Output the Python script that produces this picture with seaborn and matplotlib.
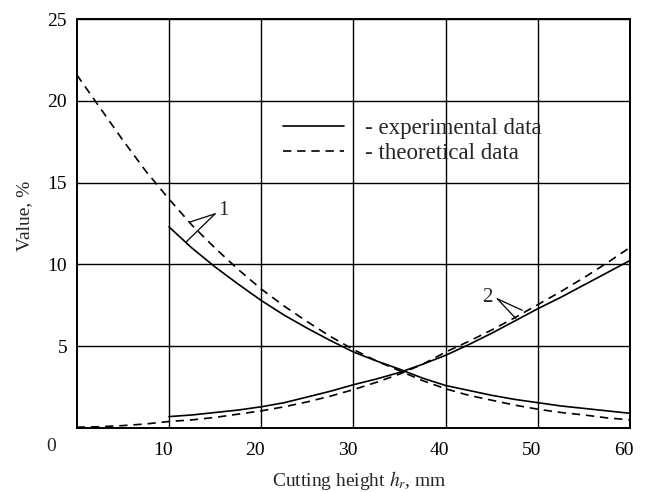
import matplotlib
matplotlib.use("Agg")
import matplotlib.pyplot as plt
import matplotlib.transforms as mtransforms
import seaborn as sns
import pandas as pd

# curve 1 (decreasing) and curve 2 (increasing)
x_theor = [0, 2.5, 5, 7.5, 10, 12.5, 15, 17.5, 20, 22.5, 25, 27.5, 30,
           32.5, 35, 37.5, 40, 42.5, 45, 47.5, 50, 52.5, 55, 57.5, 60]
theor_1 = [21.6, 19.6, 17.6, 15.7, 14.0, 12.4, 11.0, 9.7, 8.5, 7.45, 6.5, 5.6, 4.8,
           4.1, 3.5, 2.9, 2.4, 2.0, 1.7, 1.4, 1.15, 0.95, 0.8, 0.62, 0.5]
theor_2 = [0.05, 0.08, 0.15, 0.25, 0.4, 0.5, 0.65, 0.85, 1.05, 1.3, 1.6, 1.95, 2.35,
           2.8, 3.3, 3.9, 4.65, 5.3, 6.0, 6.75, 7.55, 8.35, 9.2, 10.1, 11.05]

x_exp = [10, 12.5, 15, 17.5, 20, 22.5, 25, 27.5, 30, 32.5, 35,
         37.5, 40, 42.5, 45, 47.5, 50, 52.5, 55, 57.5, 60]
exp_1 = [12.3, 11.0, 9.85, 8.8, 7.8, 6.9, 6.1, 5.35, 4.65, 4.1, 3.6,
         3.05, 2.6, 2.3, 2.0, 1.75, 1.55, 1.35, 1.2, 1.05, 0.9]
exp_2 = [0.7, 0.8, 0.95, 1.1, 1.3, 1.55, 1.9, 2.25, 2.65, 3.0, 3.4,
         3.9, 4.45, 5.1, 5.8, 6.55, 7.3, 8.0, 8.75, 9.5, 10.25]

x_ticks = [10, 20, 30, 40, 50, 60]
y_ticks = [5, 10, 15, 20, 25]

frames = [
    pd.DataFrame({"h": x_exp, "value": exp_1, "curve": "e1", "kind": "experimental"}),
    pd.DataFrame({"h": x_exp, "value": exp_2, "curve": "e2", "kind": "experimental"}),
    pd.DataFrame({"h": x_theor, "value": theor_1, "curve": "t1", "kind": "theoretical"}),
    pd.DataFrame({"h": x_theor, "value": theor_2, "curve": "t2", "kind": "theoretical"}),
]
df = pd.concat(frames, ignore_index=True)

sns.set_theme(style="white")
plt.rcParams["font.family"] = ["Liberation Serif", "DejaVu Serif"]
plt.rcParams["mathtext.fontset"] = "stix"

fig = plt.figure(figsize=(6.45, 4.92), dpi=100)
ax = fig.add_axes([0.119, 0.130, 0.858, 0.831])

sns.lineplot(data=df, x="h", y="value", style="kind", units="curve", estimator=None,
             color="black", linewidth=1.2,
             dashes={"experimental": "", "theoretical": (5, 3.5)}, ax=ax)

ax.set_xlim(0, 60)
ax.set_ylim(0, 25)
ax.set_xticks(x_ticks)
ax.set_yticks(y_ticks)
ax.grid(True, color="black", linewidth=1.0)
ax.set_axisbelow(True)
for s in ax.spines.values():
    s.set_color("black")
    s.set_linewidth(1.4)
ax.tick_params(length=0, labelsize=14, colors="black")
ax.tick_params(axis="y", pad=7)
ax.tick_params(axis="x", pad=10)

# x tick labels sit a little left of their grid lines in the original
shift = mtransforms.ScaledTranslation(-6 / 100, 0, fig.dpi_scale_trans)
for lbl in ax.get_xticklabels():
    lbl.set_transform(lbl.get_transform() + shift)

ax.text(-0.046, -0.025, "0", transform=ax.transAxes, fontsize=14, ha="center", va="top")

ax.set_xlabel(r"Cutting height $h_r$, mm", fontsize=14)
ax.xaxis.set_label_coords(0.51, -0.1)
ax.set_ylabel("Value, %", fontsize=14)
ax.yaxis.set_label_coords(-0.079, 0.518)

handles, labels = ax.get_legend_handles_labels()
ax.legend(handles, ["- experimental data", "- theoretical data"],
          loc="upper left", bbox_to_anchor=(0.336, 0.81), frameon=False,
          fontsize=16.5, handlelength=2.65, handletextpad=0.9, labelspacing=0.2)

# leader lines for curve labels
ax.plot([15.0, 12.3], [13.1, 12.6], color="black", linewidth=0.9)
ax.plot([15.0, 11.9], [13.1, 11.4], color="black", linewidth=0.9)
ax.text(15.3, 13.3, "1", fontsize=15, va="center")
ax.plot([45.6, 48.3], [7.9, 7.2], color="black", linewidth=0.9)
ax.plot([45.6, 47.6], [7.9, 6.7], color="black", linewidth=0.9)
ax.text(45.1, 8.0, "2", fontsize=15, va="center", ha="right")

fig.savefig("out.png", dpi=100)
